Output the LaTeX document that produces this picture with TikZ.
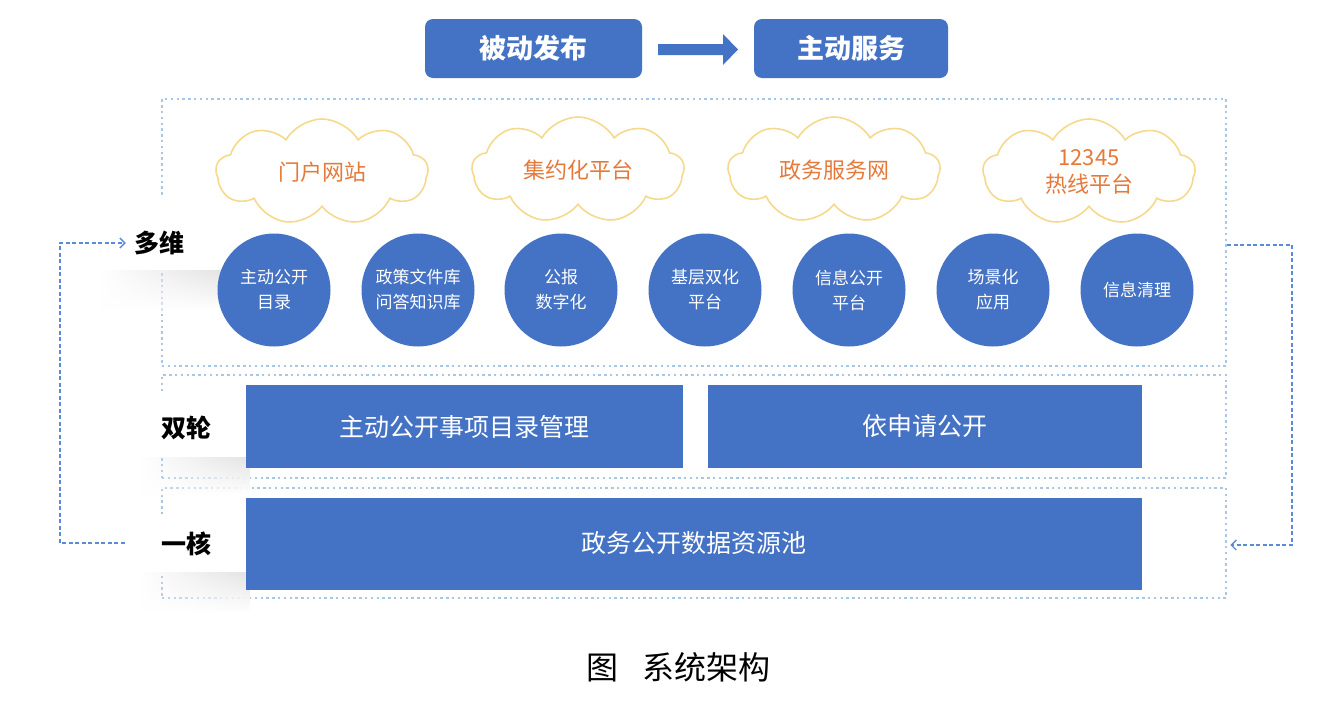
\documentclass[tikz,border=0pt]{standalone}
\usepackage{fontspec}
\setmainfont{Noto Sans CJK SC}
\usetikzlibrary{shapes.symbols,arrows.meta,calc,fadings}
\definecolor{mblue}{HTML}{4472C4}
\definecolor{dotc}{HTML}{A8C6E6}
\definecolor{cloudl}{HTML}{F6D98C}
\definecolor{cloudt}{HTML}{E5793A}
\definecolor{connc}{HTML}{5B8BD6}
\tikzset{
  headbox/.style={fill=mblue, rounded corners=8pt, text=white, font=\fontsize{27}{30}\selectfont\bfseries, inner sep=0pt},
  region/.style={draw=dotc, line width=2.8pt, dash pattern=on 2.4pt off 3.4pt, inner sep=0pt},
  cloudbox/.style={cloud, cloud puffs=9, cloud puff arc=120, aspect=2, draw=cloudl, line width=1.6pt, fill=white, text=cloudt, font=\fontsize{22}{27}\selectfont, align=center, inner sep=0pt, minimum width=212pt, minimum height=106pt},
  circ/.style={circle, fill=mblue, text=white, minimum size=113pt, inner sep=0pt, align=center, font=\fontsize{17}{25}\selectfont},
  bar/.style={fill=mblue, text=white, inner sep=0pt, font=\fontsize{25}{30}\selectfont},
  labbox/.style={fill=white, inner sep=0pt},
  labtext/.style={font=\fontsize{25}{30}\selectfont\bfseries, text=black, inner sep=0pt},
  conn/.style={draw=connc, line width=1.1pt, dash pattern=on 4pt off 2.5pt, -{Straight Barb[length=5pt,width=10pt,line width=1.3pt]}},
  shade/.style={top color=black!11, bottom color=white, draw=none, path fading=west}
}
\begin{document}
\begin{tikzpicture}[x=1pt,y=-1pt]
\useasboundingbox[fill=white] (0,0) rectangle (1324,702);

% header
\node[headbox, minimum width=217pt, minimum height=59pt] (passive) at (533.5,48.5) {被动发布};
\node[headbox, minimum width=194pt, minimum height=59pt] (active) at (851,48.5) {主动服务};
\fill[mblue] (658,44) -- (723,44) -- (723,34) -- (738,49.5) -- (723,65) -- (723,55) -- (658,55) -- cycle;

% regions
\node[region, minimum width=1064pt, minimum height=267pt] (top) at (694,232.5) {};
\node[region, minimum width=1064pt, minimum height=103pt] (mid) at (694,426.5) {};
\node[region, minimum width=1064pt, minimum height=110pt] (bot) at (694,543) {};

% shadows under labels
\shade[shade] (100,270) rectangle (225,310);
\shade[shade] (140,457) rectangle (250,495);
\shade[shade] (140,572) rectangle (250,612);

% clouds
\node[cloudbox] (c1) at (322,172) {门户网站};
\node[cloudbox] (c2) at (578,170) {集约化平台};
\node[cloudbox] (c3) at (834,170) {政务服务网};
\node[cloudbox] (c4) at (1089,172) {12345\\热线平台};

% circles
\node[circ] (k1) at (274,290) {主动公开\\目录};
\node[circ] (k2) at (418,290) {政策文件库\\问答知识库};
\node[circ] (k3) at (561,290) {公报\\数字化};
\node[circ] (k4) at (705,290) {基层双化\\平台};
\node[circ] (k5) at (849,290) {信息公开\\平台};
\node[circ] (k6) at (993,290) {场景化\\应用};
\node[circ] (k7) at (1137,290) {信息清理};

% bars
\node[bar, minimum width=437pt, minimum height=83pt] (b1) at (464.5,426.5) {主动公开事项目录管理};
\node[bar, minimum width=434pt, minimum height=83pt] (b2) at (925,426.5) {依申请公开};
\node[bar, minimum width=896pt, minimum height=92pt] (b3) at (694,543.5) {政务公开数据资源池};

% labels
\node[labbox, minimum width=115pt, minimum height=72pt] (dwbox) at (157.5,234) {};
\node[labtext] (duowei) at (159,243) {多维};
\node[labbox, minimum width=117pt, minimum height=64pt] (slbox) at (186.5,425) {};
\node[labtext] (shuanglun) at (186,428) {双轮};
\node[labbox, minimum width=117pt, minimum height=54pt] (yhbox) at (186.5,545) {};
\node[labtext] (yihe) at (186,544) {一核};

% connectors
\coordinate (L1) at (60,543);
\coordinate (R1) at (1292,245);
\draw[conn] ($(yhbox.west)+(-3,-2)$) -- (L1) |- ($(duowei.west)+(-8,0)$);
\draw[conn] (top.east |- R1) -- (R1) |- ($(bot.east)+(3,2)$);

% caption
\node[font=\fontsize{32}{36}\selectfont, inner sep=0pt] (cap) at (678,667) {图\hspace{0.75em}系统架构};
\end{tikzpicture}
\end{document}
